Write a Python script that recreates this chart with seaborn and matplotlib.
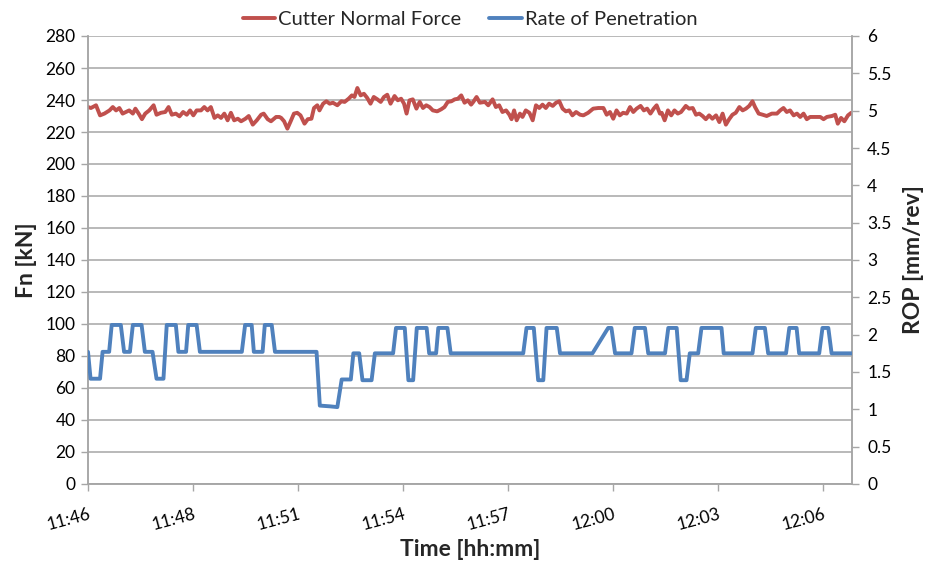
import matplotlib
matplotlib.use("Agg")
import matplotlib.pyplot as plt
import seaborn as sns
import pandas as pd
from matplotlib.lines import Line2D

# ---------------- data ----------------
# time in minutes after 11:46
fn_time = [0.00, 0.08, 0.22, 0.33, 0.45, 0.59, 0.68, 0.77, 0.86, 0.95, 1.04, 1.13, 1.23, 1.30, 1.39,
           1.48, 1.57, 1.68, 1.80, 1.88, 2.00, 2.12, 2.21, 2.30, 2.41, 2.51, 2.61, 2.71, 2.80, 2.89,
           2.98, 3.10, 3.19, 3.28, 3.37, 3.47, 3.56, 3.65, 3.74, 3.83, 3.92, 4.01, 4.11, 4.20, 4.32,
           4.41, 4.52, 4.63, 4.75, 4.82, 4.93, 5.02, 5.16, 5.25,
           5.30, 5.38, 5.47, 5.56, 5.65, 5.74, 5.83, 5.94, 6.03, 6.13, 6.20, 6.29, 6.35, 6.45, 6.54,
           6.63, 6.72, 6.84, 6.95, 7.04, 7.15, 7.24, 7.31, 7.39, 7.48, 7.57, 7.66, 7.75, 7.84, 7.94,
           8.03, 8.12, 8.21, 8.30, 8.41, 8.50, 8.59, 8.67, 8.74, 8.82, 8.91, 9.01, 9.10, 9.19, 9.28,
           9.37, 9.46, 9.58, 9.69, 9.78, 9.87, 9.97, 10.06, 10.15, 10.24, 10.33, 10.42, 10.51,
           10.57, 10.66, 10.75, 10.89, 10.98, 11.10, 11.19, 11.28, 11.37, 11.47, 11.56, 11.62, 11.69,
           11.76, 11.85, 11.92, 12.01, 12.11, 12.20, 12.29, 12.38, 12.47, 12.56, 12.65, 12.75, 12.84,
           12.93, 13.02, 13.11, 13.20, 13.29, 13.39, 13.50, 13.59, 13.72, 13.86, 14.00, 14.14, 14.23,
           14.32, 14.41, 14.50, 14.59, 14.68, 14.78, 14.87, 14.96, 15.05, 15.16, 15.25, 15.34, 15.43,
           15.52, 15.60, 15.69, 15.74, 15.82,
           15.91, 16.00, 16.09, 16.18, 16.27, 16.40, 16.49, 16.59, 16.68, 16.77, 16.86, 16.95, 17.04,
           17.13, 17.23, 17.32, 17.41, 17.50, 17.59, 17.68, 17.77, 17.87, 17.96, 18.05, 18.14, 18.23,
           18.30, 18.40, 18.51, 18.62, 18.76, 18.90, 18.99, 19.08, 19.17, 19.26, 19.36, 19.45, 19.54,
           19.63, 19.72, 19.81, 19.95, 20.09, 20.18, 20.27, 20.41, 20.50, 20.57, 20.66, 20.75, 20.85,
           20.94]
fn_kn = [235.6, 235.0, 236.7, 230.4, 231.5, 233.5, 235.6, 233.5, 235.0, 231.5, 232.5, 233.5, 231.5, 234.6, 231.5,
         228.0, 231.5, 233.5, 236.7, 230.8, 232.0, 232.5, 235.6, 230.8, 231.5, 229.8, 232.5, 230.8, 233.5, 230.4,
         233.5, 233.5, 235.6, 233.5, 235.6, 228.8, 230.4, 228.8, 231.5, 227.3, 232.0, 227.3, 228.3, 226.7, 228.3,
         230.0, 224.6, 227.3, 230.8, 231.5, 228.0, 226.7, 229.4, 229.4,
         228.8, 226.7, 222.1, 226.7, 231.5, 232.0, 230.4, 225.2, 228.0, 228.3, 235.0, 236.7, 233.5, 237.7, 239.2,
         237.7, 238.3, 236.7, 239.2, 238.8, 240.8, 242.9, 241.9, 247.5, 242.9, 243.9, 241.3, 237.7, 241.9, 240.4,
         238.8, 241.9, 243.3, 237.7, 242.5, 239.8, 240.8, 237.7, 231.5, 239.8, 240.4, 234.6, 238.8, 235.0, 236.7,
         235.6, 233.5, 232.9, 234.2, 235.6, 238.8, 239.2, 240.4, 240.8, 242.9, 238.3, 239.8, 237.1,
         238.8, 241.9, 238.3, 238.8, 236.7, 240.4, 235.6, 236.7, 232.5, 233.5, 230.8, 228.0, 233.5,
         227.3, 231.5, 229.4, 233.5, 232.0, 227.3, 236.7, 235.0, 237.1, 235.0, 237.7, 236.3, 238.3,
         239.2, 234.6, 232.9, 233.5, 230.4, 232.5, 230.8, 230.4, 232.0, 234.6, 235.0, 235.0, 230.8,
         232.5, 228.3, 233.5, 230.4, 232.0, 231.5, 235.6, 232.5, 234.6, 236.3, 233.5, 234.6, 231.5,
         234.6, 236.7, 231.5, 232.0, 227.3,
         233.5, 230.4, 233.5, 231.5, 232.5, 236.3, 234.6, 235.0, 230.8, 231.5, 230.0, 228.0, 230.4,
         228.3, 230.4, 226.2, 231.5, 224.6, 228.0, 230.8, 232.0, 235.6, 233.5, 234.6, 236.3, 239.2,
         235.6, 231.5, 230.8, 230.0, 231.5, 231.5, 233.5, 235.0, 232.5, 233.5, 230.4, 231.5, 229.4,
         231.5, 228.0, 229.4, 229.4, 229.4, 228.0, 229.4, 230.0, 230.8, 225.2, 228.8, 226.7, 230.4,
         232.0]

rop_time = [0.00, 0.07, 0.33, 0.40, 0.58, 0.65, 0.90, 0.99, 1.15, 1.23, 1.47, 1.56, 1.77, 1.88, 2.07,
            2.16, 2.41, 2.48, 2.69, 2.75, 2.98, 3.07, 4.22, 4.31, 4.49, 4.55, 4.79, 4.85, 5.04, 5.13,
            6.27, 6.36, 6.64, 6.84, 6.96, 7.21, 7.28, 7.44, 7.53, 7.78, 7.87, 8.37, 8.45, 8.69, 8.79,
            8.92, 9.02, 9.29, 9.36, 9.55, 9.61, 9.86, 9.95, 11.94, 12.03, 12.23, 12.35, 12.49, 12.58,
            12.86, 12.95, 13.84, 14.27, 14.36, 14.46, 14.91, 15.00, 15.28, 15.37, 15.83, 15.92, 16.15,
            16.26, 16.42, 16.51, 16.74, 16.83, 17.38, 17.44, 18.23, 18.32, 18.57, 18.66, 19.15, 19.24,
            19.44, 19.51, 20.06, 20.15, 20.31, 20.40, 20.96]
rop_mm = [1.77, 1.41, 1.41, 1.77, 1.77, 2.13, 2.13, 1.77, 1.77, 2.13, 2.13, 1.77, 1.77, 1.41, 1.41,
          2.13, 2.13, 1.77, 1.77, 2.13, 2.13, 1.77, 1.77, 2.13, 2.13, 1.77, 1.77, 2.13, 2.13, 1.77,
          1.77, 1.05, 1.04, 1.03, 1.40, 1.40, 1.75, 1.75, 1.39, 1.39, 1.75, 1.75, 2.09, 2.09, 1.39,
          1.39, 2.09, 2.09, 1.75, 1.75, 2.09, 2.09, 1.75, 1.75, 2.09, 2.09, 1.39, 1.39, 2.09,
          2.09, 1.75, 1.75, 2.09, 2.09, 1.75, 1.75, 2.09, 2.09, 1.75, 1.75, 2.09, 2.09,
          1.39, 1.39, 1.75, 1.75, 2.09, 2.09, 1.75, 1.75, 2.09, 2.09, 1.75, 1.75, 2.09,
          2.09, 1.75, 1.75, 2.09, 2.09, 1.75, 1.75]

x_ticks = [0.0, 2.88, 5.76, 8.64, 11.52, 14.40, 17.28, 20.16]
x_ticklabels = ["11:46", "11:48", "11:51", "11:54", "11:57", "12:00", "12:03", "12:06"]
fn_ticks = list(range(0, 281, 20))
rop_ticks = [0, 0.5, 1, 1.5, 2, 2.5, 3, 3.5, 4, 4.5, 5, 5.5, 6]
rop_ticklabels = ["0", "0.5", "1", "1.5", "2", "2.5", "3", "3.5", "4", "4.5", "5", "5.5", "6"]

# ---------------- style ----------------
sns.set_theme(style="white")
plt.rcParams["font.family"] = ["Lato", "DejaVu Sans"]

RED = "#C0504D"
BLUE = "#4F81BD"
GRID = "#A6A6A6"

fig = plt.figure(figsize=(9.34, 5.62), dpi=100)
ax = fig.add_axes([88 / 934, 1 - 484 / 562, (852 - 88) / 934, (484 - 36) / 562])
ax2 = ax.twinx()

df_fn = pd.DataFrame({"t": fn_time, "Fn": fn_kn})
df_rop = pd.DataFrame({"t": rop_time, "ROP": rop_mm})

sns.lineplot(data=df_fn, x="t", y="Fn", ax=ax, color=RED, linewidth=2.8, zorder=3)
sns.lineplot(data=df_rop, x="t", y="ROP", ax=ax2, color=BLUE, linewidth=2.8, zorder=3)

ax.set_xlim(0, 20.96)
ax.set_ylim(0, 280)
ax2.set_ylim(0, 6)

ax.set_yticks(fn_ticks)
ax.set_yticklabels([str(v) for v in fn_ticks], fontsize=12.5)
ax2.set_yticks(rop_ticks)
ax2.set_yticklabels(rop_ticklabels, fontsize=12.5)

ax.set_xticks(x_ticks)
ax.set_xticklabels(x_ticklabels, fontsize=12.5, rotation=15, ha="right", va="top",
                   rotation_mode="anchor")

ax.yaxis.grid(True, color=GRID, linewidth=1.1)
ax.set_axisbelow(True)
ax2.grid(False)

for a in (ax, ax2):
    for s in a.spines.values():
        s.set_color(GRID)
        s.set_linewidth(1.1)
    a.spines["top"].set_visible(False)

ax.tick_params(axis="y", direction="out", length=5, width=1, color=GRID, pad=4, labelcolor="black")
ax.tick_params(axis="x", direction="out", length=5, width=1, color=GRID, pad=11, labelcolor="black")
ax2.tick_params(axis="y", direction="out", length=5, width=1, color=GRID, pad=6, labelcolor="black")
ax.tick_params(left=True, bottom=True)
ax2.tick_params(right=True)

ax.set_xlabel("Time [hh:mm]", fontsize=16.5, fontweight="bold", labelpad=4)
ax.set_ylabel("Fn [kN]", fontsize=16.5, fontweight="bold", labelpad=6)
ax2.set_ylabel("ROP [mm/rev]", fontsize=16.5, fontweight="bold", labelpad=8)

handles = [Line2D([], [], color=RED, linewidth=2.8), Line2D([], [], color=BLUE, linewidth=2.8)]
fig.legend(handles, ["Cutter Normal Force", "Rate of Penetration"], loc="upper center",
           bbox_to_anchor=(470 / 934, 1.012), ncol=2, frameon=False, fontsize=14.5,
           handlelength=1.6, handletextpad=0.15, columnspacing=1.4)

fig.savefig("out.png", dpi=100)
